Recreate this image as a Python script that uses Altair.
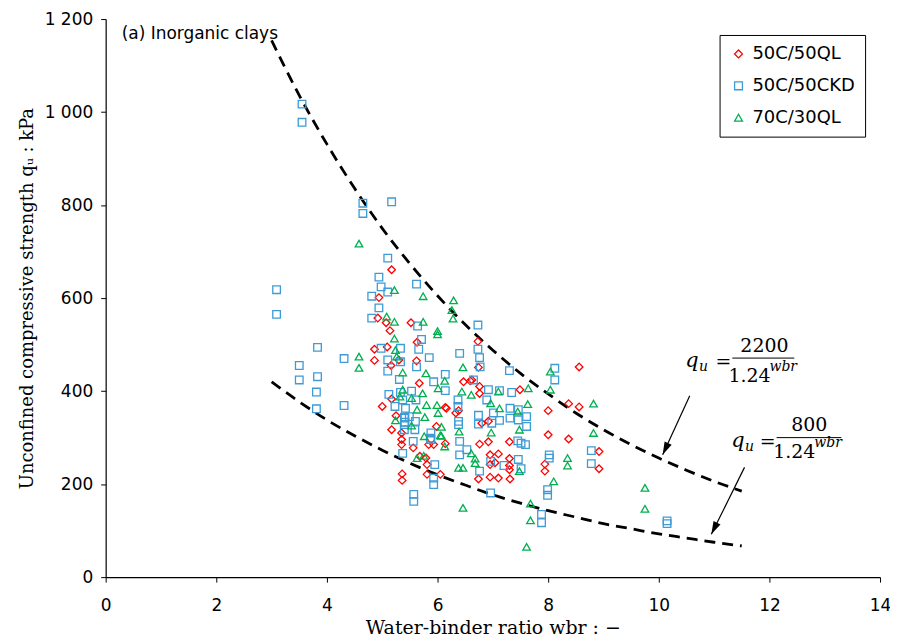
import altair as alt
import pandas as pd

# ---------------- data ----------------
series_names = ["50C/50QL", "50C/50CKD", "70C/30QL"]
series_colors = ["#ff0000", "#3d9bd6", "#00b050"]
series_shapes = ["diamond", "square", "triangle-up"]

ql50_wbr = [5.17, 4.94, 4.92, 5.07, 5.14, 5.52, 5.63, 4.86, 5.09, 4.86, 5.30, 5.62, 5.16,
            5.00, 5.17, 5.35, 5.35, 5.35, 5.56, 5.67, 5.68, 5.81, 5.81, 6.05, 5.36, 5.36,
            5.98, 6.16, 6.38, 6.47, 6.73, 6.74, 8.56, 7.49, 6.62, 6.76, 6.76, 8.00, 8.37,
            8.56, 6.92, 6.80, 8.00, 8.37, 8.92, 8.92, 6.76, 6.92, 7.30, 6.95, 7.10, 7.30,
            7.30, 7.30, 7.04, 6.95, 6.74, 6.95, 7.10, 7.31, 7.94, 7.94, 5.17, 6.14, 5.25,
            5.84, 5.93, 5.79, 6.59, 6.33, 6.14]
ql50_qu = [661, 601, 557, 547, 530, 547, 505, 490, 495, 466, 467, 465, 455,
           367, 317, 310, 296, 285, 278, 417, 260, 242, 221, 221, 222, 208,
           324, 363, 358, 420, 507, 451, 452, 403, 424, 395, 410, 358, 373,
           366, 335, 331, 306, 297, 270, 233, 286, 291, 291, 263, 265, 255,
           240, 231, 246, 242, 211, 215, 213, 211, 243, 228, 383, 365, 347,
           285, 285, 256, 422, 353, 287]

ckd50_wbr = [3.55, 3.55, 4.65, 4.65, 5.17, 5.10, 4.94, 4.98, 5.62, 4.81, 4.94, 4.81, 5.64,
             5.71, 4.98, 5.33, 5.66, 5.85, 5.10, 5.33, 5.62, 5.10, 6.14, 6.40, 3.83, 3.50,
             3.09, 3.09, 4.31, 3.83, 3.50, 3.81, 3.81, 4.31, 5.12, 5.23, 5.40, 5.40, 5.40,
             5.60, 5.53, 5.56, 5.37, 5.93, 6.14, 6.37, 6.37, 6.38, 6.40, 6.40, 5.88, 5.88,
             5.95, 5.93, 5.93, 5.57, 5.57, 6.73, 6.73, 6.76, 6.77, 7.30, 8.12, 8.12, 7.34,
             7.12, 6.92, 6.65, 6.89, 7.31, 7.46, 6.74, 6.74, 6.98, 7.12, 7.31, 7.46, 7.61,
             7.61, 8.78, 8.78, 7.45, 7.51, 7.59, 7.46, 7.51, 7.20, 6.76, 8.02, 8.02, 7.99,
             7.99, 6.96, 7.88, 7.88, 10.15, 10.15, 5.31, 5.33, 5.37, 5.61, 5.42, 5.49, 5.41,
             5.41, 5.59, 5.87, 7.01, 6.38, 6.53, 6.96, 5.10]
ckd50_qu = [1017, 978, 804, 782, 807, 686, 645, 624, 630, 604, 579, 557, 540,
            511, 492, 492, 490, 472, 467, 463, 452, 443, 436, 481, 494, 455,
            618, 565, 470, 431, 424, 398, 362, 369, 393, 367, 344, 328, 317,
            335, 400, 292, 266, 420, 401, 381, 367, 335, 292, 263, 310, 296,
            242, 213, 199, 178, 163, 542, 490, 472, 452, 444, 449, 424, 397,
            401, 403, 424, 381, 363, 360, 348, 329, 331, 337, 342, 338, 345,
            324, 272, 244, 293, 288, 285, 253, 233, 240, 228, 263, 256, 188,
            176, 181, 135, 117, 115, 121, 425, 397, 381, 381, 363, 345, 342,
            333, 317, 299, 353, 328, 274, 249, 613]

ql30_wbr = [4.58, 5.22, 5.74, 6.29, 6.26, 6.28, 5.08, 5.22, 5.74, 6.00, 6.00, 5.22, 5.24,
            5.26, 4.58, 4.58, 5.37, 5.79, 6.46, 5.37, 5.73, 6.01, 5.32, 5.53, 5.63, 5.80,
            6.01, 5.24, 5.53, 5.77, 6.07, 5.76, 6.07, 6.13, 5.63, 5.75, 6.39, 6.38, 6.46,
            6.46, 8.04, 8.04, 7.64, 6.61, 7.10, 6.96, 7.63, 7.45, 8.82, 6.97, 7.48, 8.82,
            7.48, 8.35, 8.35, 8.10, 7.68, 7.68, 7.61, 9.75, 9.75, 6.13, 5.99, 6.05, 6.44,
            7.12, 6.61, 6.68, 6.68]
ql30_qu = [717, 617, 604, 595, 574, 556, 560, 549, 549, 529, 522, 513, 488,
           474, 474, 450, 440, 438, 451, 403, 395, 406, 388, 385, 360, 370,
           353, 337, 326, 344, 323, 303, 304, 281, 256, 261, 313, 235, 235,
           149, 442, 403, 406, 392, 399, 374, 372, 356, 373, 311, 317, 310,
           228, 256, 240, 206, 158, 122, 65, 192, 147, 422, 370, 305, 399,
           363, 266, 255, 245]

# dashed envelope curves, q_u = 2200/1.24^wbr and 800/1.24^wbr, as read at these wbr
curve_wbr = [3, 3.5, 4, 4.5, 5, 5.5, 6, 6.5, 7, 7.5, 8, 8.5, 9, 9.5, 10, 10.5, 11, 11.5]
curve_upper = [1154, 1036, 931, 836, 750, 674, 605, 543, 488, 438, 394, 353, 317, 285, 256, 230, 206, 185]
curve_lower = [420, 377, 338, 304, 273, 245, 220, 198, 177, 159, 143, 129, 115, 104, 93, 84, 75, 67]

x_ticks = [0, 2, 4, 6, 8, 10, 12, 14]
y_ticks = [0, 200, 400, 600, 800, 1000, 1200]

# ---------------- tables ----------------
rows = []
for name, xs, ys in [(series_names[0], ql50_wbr, ql50_qu),
                     (series_names[1], ckd50_wbr, ckd50_qu),
                     (series_names[2], ql30_wbr, ql30_qu)]:
    for a, b in zip(xs, ys):
        rows.append({"series": name, "wbr": a, "qu": b, "order": len(rows)})
pts = pd.DataFrame(rows)

curves = pd.DataFrame(
    [{"curve": "upper", "wbr": w, "qu": q} for w, q in zip(curve_wbr, curve_upper)]
    + [{"curve": "lower", "wbr": w, "qu": q} for w, q in zip(curve_wbr, curve_lower)]
)

# annotation positions (data units)
arrows = pd.DataFrame([
    {"x": 10.56, "y": 390, "x2": 10.07, "y2": 263, "angle": 25},
    {"x": 11.55, "y": 236, "x2": 10.95, "y2": 92, "angle": 26},
])
frac_lines = pd.DataFrame([
    {"x": 11.33, "x2": 12.45, "y": 471},
    {"x": 12.13, "x2": 13.30, "y": 300},
])
upright_txt = pd.DataFrame([
    {"t": "=", "x": 11.17, "y": 463, "fs": 19},
    {"t": "2200", "x": 11.91, "y": 497, "fs": 19},
    {"t": "1.24", "x": 11.64, "y": 433, "fs": 19},
    {"t": "=", "x": 11.97, "y": 291, "fs": 19},
    {"t": "800", "x": 12.72, "y": 327, "fs": 19},
    {"t": "1.24", "x": 12.45, "y": 270, "fs": 19},
])
italic_txt = pd.DataFrame([
    {"t": "q", "x": 10.60, "y": 465, "fs": 21},
    {"t": "u", "x": 10.81, "y": 452, "fs": 14},
    {"t": "wbr", "x": 12.25, "y": 452, "fs": 14},
    {"t": "q", "x": 11.43, "y": 293, "fs": 21},
    {"t": "u", "x": 11.64, "y": 280, "fs": 14},
    {"t": "wbr", "x": 13.06, "y": 288, "fs": 14},
])
panel_lbl = pd.DataFrame([{"t": "(a) Inorganic clays", "x": 0.29, "y": 1167}])

# ---------------- chart ----------------
xsc = alt.Scale(domain=[0, 14], nice=False)
ysc = alt.Scale(domain=[0, 1200], nice=False)

points = alt.Chart(pts).mark_point(filled=False, strokeWidth=1.3, size=58, opacity=1).encode(
    x=alt.X("wbr:Q", scale=xsc,
            axis=alt.Axis(values=x_ticks, format="d", labelFlush=False,
                          title="Water-binder ratio wbr : −", grid=False)),
    y=alt.Y("qu:Q", scale=ysc,
            axis=alt.Axis(values=y_ticks, grid=False, labelFlush=False,
                          labelExpr="replace(format(datum.value, ','), ',', ' ')",
                          title="Unconfined compressive strength qᵤ : kPa")),
    color=alt.Color("series:N", scale=alt.Scale(domain=series_names, range=series_colors),
                    legend=alt.Legend(title=None)),
    shape=alt.Shape("series:N", scale=alt.Scale(domain=series_names, range=series_shapes),
                    legend=alt.Legend(title=None)),
    order=alt.Order("order:Q"),
)

lines = alt.Chart(curves).mark_line(color="black", strokeDash=[11, 7], strokeWidth=2.8,
                                    interpolate="monotone").encode(
    x=alt.X("wbr:Q", scale=xsc), y=alt.Y("qu:Q", scale=ysc), detail="curve:N")

shafts = alt.Chart(arrows).mark_rule(color="black", strokeWidth=1.2).encode(
    x=alt.X("x:Q", scale=xsc), y=alt.Y("y:Q", scale=ysc), x2="x2:Q", y2="y2:Q")

heads = alt.Chart(arrows).mark_point(shape="M0,0L-0.6,-2L0.6,-2Z", filled=True, color="black",
                                     size=169, opacity=1).encode(
    x=alt.X("x2:Q", scale=xsc), y=alt.Y("y2:Q", scale=ysc), angle=alt.Angle("angle:Q", scale=None))

fracs = alt.Chart(frac_lines).mark_rule(color="black", strokeWidth=1).encode(
    x=alt.X("x:Q", scale=xsc), x2="x2:Q", y=alt.Y("y:Q", scale=ysc))

txt_up = alt.Chart(upright_txt).mark_text(font="DejaVu Serif", color="black", baseline="middle",
                                          align="center").encode(
    x=alt.X("x:Q", scale=xsc), y=alt.Y("y:Q", scale=ysc), text="t:N", size=alt.Size("fs:Q", scale=None))

txt_it = alt.Chart(italic_txt).mark_text(font="DejaVu Serif", fontStyle="italic", color="black",
                                         baseline="middle", align="center").encode(
    x=alt.X("x:Q", scale=xsc), y=alt.Y("y:Q", scale=ysc), text="t:N", size=alt.Size("fs:Q", scale=None))

panel = alt.Chart(panel_lbl).mark_text(font="DejaVu Sans", fontSize=17, color="black",
                                       align="left", baseline="middle").encode(
    x=alt.X("x:Q", scale=xsc), y=alt.Y("y:Q", scale=ysc), text="t:N")

chart = alt.layer(lines, points, shafts, heads, fracs, txt_up, txt_it, panel).properties(
    width=777, height=560,
    autosize=alt.AutoSizeParams(type="none"),
    padding={"left": 98, "top": 10, "right": 10, "bottom": 60},
).configure_view(stroke=None).configure_axis(
    domainColor="black", tickColor="black", labelColor="black", titleColor="black",
    labelFont="DejaVu Sans", labelFontSize=17, tickSize=5, domainWidth=1.2,
    titleFont="DejaVu Serif", titleFontSize=19, titleFontWeight="normal",
).configure_axisX(labelPadding=15, titlePadding=6).configure_axisY(
    labelPadding=8, titlePadding=8, titleFontSize=18
).configure_legend(
    orient="none", legendX=616, legendY=16, strokeColor="black", fillColor="white",
    padding=10, labelFont="DejaVu Sans", labelFontSize=18, labelColor="black",
    rowPadding=14, symbolSize=62, symbolStrokeWidth=1.3, labelOffset=5,
)

chart.save("out.html", embed_options={"renderer": "svg", "actions": False})
